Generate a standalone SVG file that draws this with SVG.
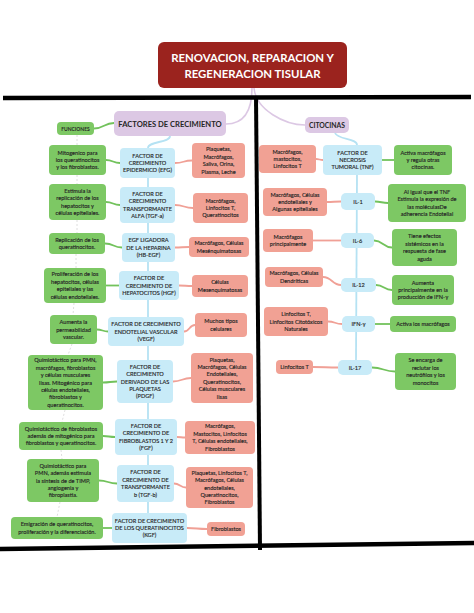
<svg xmlns="http://www.w3.org/2000/svg" width="474" height="613" viewBox="0 0 474 613">
<style>
text{font-family:Lato,"Liberation Sans",sans-serif;fill:#262626;stroke:#262626;stroke-width:0.14;text-anchor:middle;font-size:5.6px}
.g{fill:#7dc864}.p{fill:#f1a194}.b{fill:#c8ebf8}.v{fill:#dcc8e4}
.cg{fill:none;stroke:#72c25c;stroke-width:1.8}
.cp{fill:none;stroke:#f0a096;stroke-width:1.8}
.cb{fill:none;stroke:#b5e2f3;stroke-width:1.8}
.cv{fill:none;stroke:#dcc8e4;stroke-width:1.6}
.cd{fill:none;stroke:#d6d6d6;stroke-width:0.8;stroke-dasharray:2 2}
.k{fill:none;stroke:#000;stroke-width:4.5}
.h{font-weight:bold;stroke:none}
.w{fill:#fff}
</style>
<rect width="474" height="613" fill="#fff"/>
<g id="connectors">
<path class="cv" d="M252,88 C252,114 242,124 226,124"/>
<path class="cv" d="M254,88 C256,110 285,125 305,125"/>
<path class="cg" d="M94,128.5 C104,128.5 104,123 114,123"/>
<path class="cb" d="M170,136 C170,143 148,141 148,148"/>
<path class="cb" d="M148,178 L148,513"/>
<path class="cb" d="M335,133 C338,140 357,138 357,145"/>
<path class="cb" d="M357,175 L356,360"/>
<path class="cd" d="M77,135 L77,145 M77,175 L77,184 M77,220 L77,233 M76,254 L76,268 M74,303 L73,315 M72,344 L68,355 M65,410 L62,422 M61,450 L62,459 M60,502 L57,517"/>
<path class="cg" d="M106,160 C113,160 113,163 120,163"/>
<path class="cg" d="M106,202 C113,202 113,205 120,205"/>
<path class="cg" d="M105,243.5 C114,243.5 113,247.5 122,247.5"/>
<path class="cg" d="M106,285.5 L119,285.5"/>
<path class="cg" d="M97,329.5 C102,329.5 103,331.5 108,331.5"/>
<path class="cg" d="M103,382.5 C110,382.5 110,381.5 117,381.5"/>
<path class="cg" d="M103,436 C109,436 109,437 115,437"/>
<path class="cg" d="M99,480.5 C108,480.5 108,483.5 117,483.5"/>
<path class="cg" d="M103,528 L112,528"/>
<path class="cp" d="M175,163 C184,163 183,160.5 192,160.5"/>
<path class="cp" d="M175,205 C184,205 184,208 193,208"/>
<path class="cp" d="M175,247.5 C182,247.5 182,247 189,247"/>
<path class="cp" d="M179,285.5 C185,285.5 186,286 192,286"/>
<path class="cp" d="M184,331.5 C190,331.5 189,325 195,325"/>
<path class="cp" d="M173,381.5 C182,381.5 182,378 191,378"/>
<path class="cp" d="M177,437 C181,437 181,437.5 185,437.5"/>
<path class="cp" d="M174,483.5 C180,483.5 180,487.5 186,487.5"/>
<path class="cp" d="M187,528 C197,528 197,529 207,529"/>
<path class="cp" d="M316,159 C319,159 320,160 323,160"/>
<path class="cp" d="M327,202 C334,202 334,201.5 341,201.5"/>
<path class="cp" d="M313,240.5 L341,240.5"/>
<path class="cp" d="M323,277 C332,277 332,285 341,285"/>
<path class="cp" d="M328,321.5 C335,321.5 335,324 342,324"/>
<path class="cp" d="M313,367 C325,367 326,367.5 338,367.5"/>
<path class="cg" d="M382,160 L394,160"/>
<path class="cg" d="M375,201.5 C381,201.5 382,203 388,203"/>
<path class="cg" d="M374,240.5 C383,240.5 383,247.5 392,247.5"/>
<path class="cg" d="M376,285 C384,285 384,290 392,290"/>
<path class="cg" d="M375,324 L390,324"/>
<path class="cg" d="M372,367.5 C383,367.5 384,371.5 395,371.5"/>
<path class="k" d="M3,98 L471,97"/>
<path class="k" d="M256,96 L260,550" style="stroke-width:4"/>
<path class="k" d="M0,549 L474,543"/>
</g>
<g id="title"><rect x="158" y="42" width="189" height="46" rx="6" fill="#9b231e"/>
<text x="252.5" y="62" class="h w" style="font-size:11.4px">RENOVACION, REPARACION Y</text>
<text x="252.5" y="77.5" class="h w" style="font-size:11.4px">REGENERACION TISULAR</text></g>
<g id="factores"><rect class="v" x="114" y="111" width="112" height="25" rx="5"/><text x="170" y="126.5" class="h" style="font-size:7.6px">FACTORES DE CRECIMIENTO</text></g>
<g id="funciones"><rect class="g" x="57" y="122" width="37" height="13" rx="4"/><text x="75.5" y="130.5" class="h" style="font-size:5px">FUNCIONES</text></g>
<g id="citocinas"><rect class="v" x="305" y="117" width="44" height="16" rx="5"/><text x="327" y="127.8" class="h" style="font-size:6.8px">CITOCINAS</text></g>

<g id="g1"><rect class="g" x="49" y="145" width="57" height="30" rx="4"/><text y="154.6"><tspan x="77.5">Mitogenico para</tspan><tspan x="77.5" dy="7.4">los queratinocitos</tspan><tspan x="77.5" dy="7.4">y los fibroblastos.</tspan></text></g>
<g id="g2"><rect class="g" x="49" y="184" width="57" height="36" rx="4"/><text y="192.9"><tspan x="77.5">Estimula la</tspan><tspan x="77.5" dy="7.4">replicación de los</tspan><tspan x="77.5" dy="7.4">hepatocitos y</tspan><tspan x="77.5" dy="7.4">células epiteliales.</tspan></text></g>
<g id="g3"><rect class="g" x="49" y="233" width="56" height="21" rx="4"/><text y="241.8"><tspan x="77">Replicación de los</tspan><tspan x="77" dy="7.4">queratinocitos.</tspan></text></g>
<g id="g4"><rect class="g" x="44" y="268" width="62" height="35" rx="4"/><text y="276.4"><tspan x="75">Proliferación de los</tspan><tspan x="75" dy="7.4">hepatocitos, células</tspan><tspan x="75" dy="7.4">epiteliales y las</tspan><tspan x="75" dy="7.4">células endoteliales.</tspan></text></g>
<g id="g5"><rect class="g" x="50" y="315" width="47" height="29" rx="4"/><text y="324.1"><tspan x="73.5">Aumenta la</tspan><tspan x="73.5" dy="7.4">permeabilidad</tspan><tspan x="73.5" dy="7.4">vascular.</tspan></text></g>
<g id="g6"><rect class="g" x="28" y="355" width="75" height="55" rx="4"/><text y="362.3"><tspan x="65.5">Quimiotáctico para PMN,</tspan><tspan x="65.5" dy="7.4">macrófagos, fibroblastos</tspan><tspan x="65.5" dy="7.4">y células musculares</tspan><tspan x="65.5" dy="7.4">lisas. Mitogénico para</tspan><tspan x="65.5" dy="7.4">células endoteliales,</tspan><tspan x="65.5" dy="7.4">fibroblastos y</tspan><tspan x="65.5" dy="7.4">queratinocitos.</tspan></text></g>
<g id="g7"><rect class="g" x="19" y="422" width="84" height="28" rx="4"/><text y="430.6"><tspan x="61">Quimiotáctico de fibroblastos</tspan><tspan x="61" dy="7.4">además de mitogénico para</tspan><tspan x="61" dy="7.4">fibroblastos y queratinocitos.</tspan></text></g>
<g id="g8"><rect class="g" x="27" y="459" width="72" height="43" rx="4"/><text y="467.7"><tspan x="63">Quimiotáctico para</tspan><tspan x="63" dy="7.4">PMN, además estimula</tspan><tspan x="63" dy="7.4">la síntesis de de TIMP,</tspan><tspan x="63" dy="7.4">angiogenia y</tspan><tspan x="63" dy="7.4">fibroplastia.</tspan></text></g>
<g id="g9"><rect class="g" x="11" y="517" width="92" height="22" rx="4"/><text y="526.3"><tspan x="57">Emigración de queratinocitos,</tspan><tspan x="57" dy="7.4">proliferación y la diferenciación.</tspan></text></g>

<g id="b1"><rect class="b" x="120" y="148" width="55" height="30" rx="4"/><text y="157.6"><tspan x="147.5">FACTOR DE</tspan><tspan x="147.5" dy="7.4">CRECIMIENTO</tspan><tspan x="147.5" dy="7.4">EPIDERMICO (EFG)</tspan></text></g>
<g id="b2"><rect class="b" x="120" y="187" width="55" height="36" rx="4"/><text y="196"><tspan x="147.5">FACTOR DE</tspan><tspan x="147.5" dy="7.4">CRECIMIENTO</tspan><tspan x="147.5" dy="7.4">TRANSFORMANTE</tspan><tspan x="147.5" dy="7.4">ALFA (TGF-a)</tspan></text></g>
<g id="b3"><rect class="b" x="122" y="233" width="53" height="29" rx="4"/><text y="242.1"><tspan x="148.5">EGF LIGADORA</tspan><tspan x="148.5" dy="7.4">DE LA HEPARINA</tspan><tspan x="148.5" dy="7.4">(HB-EGF)</tspan></text></g>
<g id="b4"><rect class="b" x="119" y="271" width="60" height="29" rx="4"/><text y="280.1"><tspan x="149">FACTOR DE</tspan><tspan x="149" dy="7.4">CRECIMIENTO DE</tspan><tspan x="149" dy="7.4">HEPATOCITOS (HGF)</tspan></text></g>
<g id="b5"><rect class="b" x="108" y="317" width="76" height="29" rx="4"/><text y="326.1"><tspan x="146">FACTOR DE CRECIMIENTO</tspan><tspan x="146" dy="7.4">ENDOTELIAL VASCULAR</tspan><tspan x="146" dy="7.4">(VEGF)</tspan></text></g>
<g id="b6"><rect class="b" x="117" y="360" width="56" height="43" rx="4"/><text y="368.7"><tspan x="145">FACTOR DE</tspan><tspan x="145" dy="7.4">CRECIMIENTO</tspan><tspan x="145" dy="7.4">DERIVADO DE LAS</tspan><tspan x="145" dy="7.4">PLAQUETAS</tspan><tspan x="145" dy="7.4">(PDGF)</tspan></text></g>
<g id="b7"><rect class="b" x="115" y="419" width="62" height="36" rx="4"/><text y="427.9"><tspan x="146">FACTOR DE</tspan><tspan x="146" dy="7.4">CRECIMIENTO DE</tspan><tspan x="146" dy="7.4">FIBROBLASTOS 1 Y 2</tspan><tspan x="146" dy="7.4">(FGF)</tspan></text></g>
<g id="b8"><rect class="b" x="117" y="465" width="57" height="37" rx="4"/><text y="474.4"><tspan x="145.5">FACTOR DE</tspan><tspan x="145.5" dy="7.4">CRECIMIENTO DE</tspan><tspan x="145.5" dy="7.4">TRANSFORMANTE</tspan><tspan x="145.5" dy="7.4">b (TGF-b)</tspan></text></g>
<g id="b9"><rect class="b" x="112" y="513" width="75" height="30" rx="4"/><text y="522.6"><tspan x="149.5">FACTOR DE CRECIMIENTO</tspan><tspan x="149.5" dy="7.4">DE LOS QUERATINOCITOS</tspan><tspan x="149.5" dy="7.4">(KGF)</tspan></text></g>

<g id="p1"><rect class="p" x="192" y="143" width="53" height="35" rx="4"/><text y="151.4"><tspan x="218.5">Plaquetas,</tspan><tspan x="218.5" dy="7.4">Macrófagos,</tspan><tspan x="218.5" dy="7.4">Saliva, Orina,</tspan><tspan x="218.5" dy="7.4">Plasma, Leche</tspan></text></g>
<g id="p2"><rect class="p" x="193" y="193" width="55" height="30" rx="4"/><text y="202.6"><tspan x="220.5">Macrófagos,</tspan><tspan x="220.5" dy="7.4">Linfocitos T,</tspan><tspan x="220.5" dy="7.4">Queratinocitos</tspan></text></g>
<g id="p3"><rect class="p" x="189" y="237" width="60" height="20" rx="4"/><text y="245.3"><tspan x="219">Macrófagos, Células</tspan><tspan x="219" dy="7.4">Mesénquimatosas</tspan></text></g>
<g id="p4"><rect class="p" x="192" y="275" width="56" height="22" rx="4"/><text y="284.3"><tspan x="220">Células</tspan><tspan x="220" dy="7.4">Mesenquimatosas</tspan></text></g>
<g id="p5"><rect class="p" x="195" y="313" width="52" height="24" rx="4"/><text y="323.3"><tspan x="221">Muchos tipos</tspan><tspan x="221" dy="7.4">celulares</tspan></text></g>
<g id="p6"><rect class="p" x="191" y="353" width="62" height="50" rx="4"/><text y="361.5"><tspan x="222">Plaquetas,</tspan><tspan x="222" dy="7.4">Macrófagos, Células</tspan><tspan x="222" dy="7.4">Endoteliales,</tspan><tspan x="222" dy="7.4">Queratinocitos,</tspan><tspan x="222" dy="7.4">Células musculares</tspan><tspan x="222" dy="7.4">lisas</tspan></text></g>
<g id="p7"><rect class="p" x="185" y="421" width="70" height="33" rx="4"/><text y="428.4"><tspan x="220">Macrófagos,</tspan><tspan x="220" dy="7.4">Mastocitos, Linfocitos</tspan><tspan x="220" dy="7.4">T, Células endoteliales,</tspan><tspan x="220" dy="7.4">Fibroblastos</tspan></text></g>
<g id="p8"><rect class="p" x="186" y="467" width="67" height="41" rx="4"/><text y="474.7"><tspan x="219.5">Plaquetas, Linfocitos T,</tspan><tspan x="219.5" dy="7.4">Macrófagos, Células</tspan><tspan x="219.5" dy="7.4">endoteliales,</tspan><tspan x="219.5" dy="7.4">Queratinocitos,</tspan><tspan x="219.5" dy="7.4">Fibroblastos</tspan></text></g>
<g id="p9"><rect class="p" x="207" y="522" width="38" height="14" rx="4"/><text x="226" y="531">Fibroblastos</text></g>

<g id="rp1"><rect class="p" x="259" y="145" width="57" height="28" rx="4"/><text y="153.6"><tspan x="287.5">Macrófagos,</tspan><tspan x="287.5" dy="7.4">mastocitos,</tspan><tspan x="287.5" dy="7.4">Linfocitos T</tspan></text></g>
<g id="rp2"><rect class="p" x="263" y="188" width="64" height="28" rx="4"/><text y="196.6"><tspan x="295">Macrófagos, Células</tspan><tspan x="295" dy="7.4">endoteliales y</tspan><tspan x="295" dy="7.4">Algunas epiteliales</tspan></text></g>
<g id="rp3"><rect class="p" x="263" y="229" width="50" height="23" rx="4"/><text y="238.8"><tspan x="288">Macrófagos</tspan><tspan x="288" dy="7.4">principalmente</tspan></text></g>
<g id="rp4"><rect class="p" x="265" y="267" width="58" height="20" rx="4"/><text y="275.3"><tspan x="294">Macrófagos, Células</tspan><tspan x="294" dy="7.4">Dendríticas</tspan></text></g>
<g id="rp5"><rect class="p" x="264" y="307" width="64" height="29" rx="4"/><text y="316.1"><tspan x="296">Linfocitos T,</tspan><tspan x="296" dy="7.4">Linfocitos Citotóxicos</tspan><tspan x="296" dy="7.4">Naturales</tspan></text></g>
<g id="rp6"><rect class="p" x="276" y="360" width="37" height="14" rx="4"/><text x="294.5" y="369">Linfocitos T</text></g>

<g id="rb1"><rect class="b" x="323" y="145" width="59" height="30" rx="4"/><text y="154.6"><tspan x="352.5">FACTOR DE</tspan><tspan x="352.5" dy="7.4">NECROSIS</tspan><tspan x="352.5" dy="7.4">TUMORAL (TNF)</tspan></text></g>
<g id="rb2"><rect class="b" x="341" y="193" width="34" height="17" rx="5"/><text x="358" y="203.5">IL-1</text></g>
<g id="rb3"><rect class="b" x="341" y="233" width="33" height="15" rx="5"/><text x="357.5" y="242.5">IL-6</text></g>
<g id="rb4"><rect class="b" x="341" y="278" width="35" height="14" rx="5"/><text x="358.5" y="287">IL-12</text></g>
<g id="rb5"><rect class="b" x="342" y="316" width="33" height="16" rx="5"/><text x="358.5" y="326">IFN-γ</text></g>
<g id="rb6"><rect class="b" x="338" y="360" width="34" height="15" rx="5"/><text x="355" y="369.5">IL-17</text></g>

<g id="rg1"><rect class="g" x="394" y="145" width="58" height="30" rx="4"/><text y="154.6"><tspan x="423">Activa macrófagos</tspan><tspan x="423" dy="7.4">y regula otras</tspan><tspan x="423" dy="7.4">citocinas.</tspan></text></g>
<g id="rg2"><rect class="g" x="388" y="184" width="78" height="38" rx="4"/><text y="193.9"><tspan x="427">Al igual que el TNF</tspan><tspan x="427" dy="7.4">Estimula la expresión de</tspan><tspan x="427" dy="7.4">las moléculasDe</tspan><tspan x="427" dy="7.4">adherencia Endotelial</tspan></text></g>
<g id="rg3"><rect class="g" x="392" y="229" width="65" height="37" rx="4"/><text y="238.4"><tspan x="424.5">Tiene efectos</tspan><tspan x="424.5" dy="7.4">sistémicos en la</tspan><tspan x="424.5" dy="7.4">respuesta de fase</tspan><tspan x="424.5" dy="7.4">aguda</tspan></text></g>
<g id="rg4"><rect class="g" x="392" y="275" width="62" height="30" rx="4"/><text y="284.6"><tspan x="423">Aumenta</tspan><tspan x="423" dy="7.4">principalmente en la</tspan><tspan x="423" dy="7.4">producción de IFN-γ</tspan></text></g>
<g id="rg5"><rect class="g" x="390" y="316" width="66" height="16" rx="4"/><text x="423" y="326">Activa los macrófagos</text></g>
<g id="rg6"><rect class="g" x="395" y="353" width="61" height="37" rx="4"/><text y="362.4"><tspan x="425.5">Se encarga de</tspan><tspan x="425.5" dy="7.4">reclutar los</tspan><tspan x="425.5" dy="7.4">neutrófilos y los</tspan><tspan x="425.5" dy="7.4">monocitos</tspan></text></g>
</svg>
